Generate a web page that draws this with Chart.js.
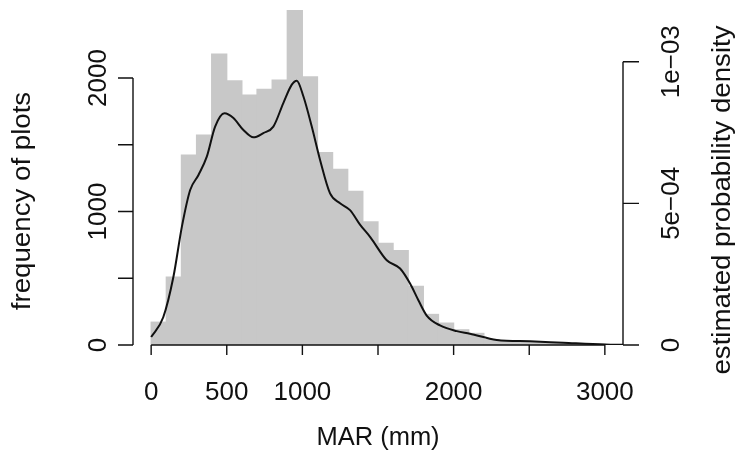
<!DOCTYPE html>
<html>
<head>
<meta charset="utf-8">
<script src="https://cdn.jsdelivr.net/npm/chart.js@4.4.1/dist/chart.umd.min.js"></script>
<style>
  body { margin: 0; background: #fff; }
  #wrap { width: 738px; height: 459px; }
</style>
</head>
<body>
<div id="wrap"><canvas id="histChart"></canvas></div>
<script>
// histogram of MAR, bins of 100 mm (lower edges)
const binStarts = [0, 100, 200, 300, 400, 500, 600, 700, 800, 900,
  1000, 1100, 1200, 1300, 1400, 1500, 1600, 1700, 1800, 1900,
  2000, 2100, 2200, 2300, 2400, 2500, 2600, 2700, 2800, 2900];
const binCounts = [171, 509, 1422, 1572, 2180, 1980, 1872, 1915, 1985, 2510,
  2010, 1442, 1317, 1152, 922, 762, 707, 439, 229, 164,
  114, 87, 40, 25, 22, 18, 14, 12, 9, 6];

// kernel density estimate (per mm)
const densityMar = [0, 80, 147, 203, 258, 313, 368, 423, 485, 544,
  610, 676, 742, 808, 874, 930, 963, 1007, 1062, 1117,
  1183, 1249, 1315, 1381, 1450, 1558, 1646, 1712, 1767, 1822,
  1910, 2021, 2108, 2285, 2505, 2725, 3000, 3100, 3200];
const densityValues = [0.28e-4, 0.98e-4, 2.40e-4, 4.17e-4, 5.47e-4, 6.00e-4, 6.65e-4, 7.71e-4, 8.18e-4, 8.01e-4,
  7.59e-4, 7.33e-4, 7.48e-4, 7.71e-4, 8.54e-4, 9.19e-4, 9.33e-4, 8.77e-4, 7.71e-4, 6.53e-4,
  5.35e-4, 5.00e-4, 4.76e-4, 4.25e-4, 3.80e-4, 2.99e-4, 2.70e-4, 2.17e-4, 1.58e-4, 1.04e-4,
  0.69e-4, 0.49e-4, 0.40e-4, 0.18e-4, 0.13e-4, 0.08e-4, 0.02e-4, 0.01e-4, 0.005e-4];

const marTicks = [0, 500, 1000, 1500, 2000, 2500, 3000];
const marLabels = ["0", "500", "1000", "", "2000", "", "3000"];
const countTicks = [0, 500, 1000, 1500, 2000];
const countLabels = ["0", "", "1000", "", "2000"];
const densityTicks = [0, 5e-4, 1e-3];
const densityLabels = ["0", "5e\u221204", "1e\u221203"];

const FONT = "'Liberation Sans', Arial, Helvetica, sans-serif";

// R style axes: line from first to last tick, outward ticks, rotated labels on the sides
const rAxes = {
  id: "rAxes",
  afterDraw(chart) {
    const ctx = chart.ctx;
    const area = chart.chartArea;
    const x = chart.scales.x;
    const yc = chart.scales.y;
    const yd = chart.scales.yDens;
    ctx.save();
    ctx.strokeStyle = "#111";
    ctx.fillStyle = "#111";
    ctx.lineWidth = 1.4;

    // bottom axis
    const bY = area.bottom;
    ctx.beginPath();
    ctx.moveTo(x.getPixelForValue(marTicks[0]), bY);
    ctx.lineTo(x.getPixelForValue(marTicks[marTicks.length - 1]), bY);
    marTicks.forEach((v) => {
      const px = x.getPixelForValue(v);
      ctx.moveTo(px, bY);
      ctx.lineTo(px, bY + 10);
    });
    ctx.stroke();
    ctx.textAlign = "center";
    ctx.textBaseline = "middle";
    ctx.font = "26px " + FONT;
    marTicks.forEach((v, i) => {
      if (marLabels[i]) ctx.fillText(marLabels[i], x.getPixelForValue(v), 393);
    });
    ctx.font = "25.5px " + FONT;
    ctx.fillText("MAR (mm)", (area.left + area.right) / 2, 438);

    // left axis (counts)
    const lX = area.left;
    ctx.beginPath();
    ctx.moveTo(lX, yc.getPixelForValue(countTicks[0]));
    ctx.lineTo(lX, yc.getPixelForValue(countTicks[countTicks.length - 1]));
    countTicks.forEach((v) => {
      const py = yc.getPixelForValue(v);
      ctx.moveTo(lX, py);
      ctx.lineTo(lX - 15, py);
    });
    ctx.stroke();

    // right axis (density)
    const rX = area.right;
    ctx.beginPath();
    ctx.moveTo(rX, yd.getPixelForValue(densityTicks[0]));
    ctx.lineTo(rX, yd.getPixelForValue(densityTicks[densityTicks.length - 1]));
    densityTicks.forEach((v) => {
      const py = yd.getPixelForValue(v);
      ctx.moveTo(rX, py);
      ctx.lineTo(rX + 16, py);
    });
    ctx.stroke();

    // vertical text, stretched a bit along its length like the original
    const vText = (txt, cx, cy, stretch) => {
      ctx.save();
      ctx.translate(cx, cy);
      ctx.rotate(-Math.PI / 2);
      ctx.scale(stretch, 1);
      ctx.fillText(txt, 0, 0);
      ctx.restore();
    };
    ctx.font = "25px " + FONT;
    countTicks.forEach((v, i) => {
      if (countLabels[i]) vText(countLabels[i], 99, yc.getPixelForValue(v), 1.04);
    });
    densityTicks.forEach((v, i) => {
      if (densityLabels[i]) vText(densityLabels[i], 672, yd.getPixelForValue(v), 1.04);
    });
    ctx.font = "25.5px " + FONT;
    vText("frequency of plots", 23, 201, 1.085);
    vText("estimated probability density", 723, 200, 1.085);
    ctx.restore();
  },
};

const context = document.getElementById("histChart").getContext("2d");
const myChart = new Chart(context, {
  type: "bar",
  data: {
    datasets: [
      {
        type: "line",
        label: "density",
        data: densityMar.map((m, i) => ({ x: m, y: densityValues[i] })),
        yAxisID: "yDens",
        borderColor: "#111",
        borderWidth: 2,
        pointRadius: 0,
        cubicInterpolationMode: "monotone",
        fill: false,
        order: 0,
      },
      {
        type: "bar",
        label: "plots",
        data: binStarts.map((s, i) => ({ x: s + 50, y: binCounts[i] })),
        yAxisID: "y",
        backgroundColor: "#c8c8c8",
        borderWidth: 0,
        inflateAmount: 0.6,
        barPercentage: 1,
        categoryPercentage: 1,
        order: 1,
      },
    ],
  },
  options: {
    responsive: true,
    maintainAspectRatio: false,
    animation: false,
    layout: { padding: { left: 133, right: 115, top: 10, bottom: 114 } },
    plugins: {
      legend: { display: false },
      tooltip: { enabled: false },
    },
    scales: {
      x: { type: "linear", min: -120, max: 3120, offset: false, display: false },
      y: { min: 0, max: 2510, display: false },
      yDens: { position: "right", min: 0, max: 1.1825e-3, display: false },
    },
  },
  plugins: [rAxes],
});
</script>
</body>
</html>
